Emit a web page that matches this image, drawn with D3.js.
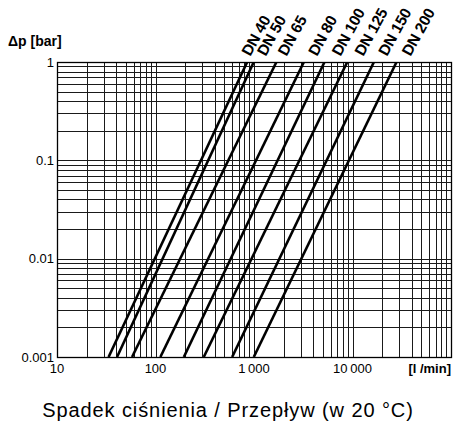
<!DOCTYPE html>
<html>
<head>
<meta charset="utf-8">
<script src="https://cdn.jsdelivr.net/npm/d3@7"></script>
<style>
  html, body { margin: 0; padding: 0; background: #fff; }
  svg { display: block; font-family: "Liberation Sans", Arial, Helvetica, sans-serif; }
</style>
</head>
<body>
<svg id="chart" width="455" height="426"></svg>
<script>
// ---- data ----
const seriesNames = ["DN 40", "DN 50", "DN 65", "DN 80", "DN 100", "DN 125", "DN 150", "DN 200"];
// flow [l/min] at Δp = 0.001 bar and at Δp = 1 bar for each line
const flowAtLow  = [33.4, 40.7, 57.8, 112, 194, 309, 600, 995];
const flowAtHigh = [853, 995, 1690, 3210, 5200, 8850, 16500, 28000];
const dpLow = 0.001, dpHigh = 1;
const xTickValues = [10, 100, 1000, 10000];
const xTickLabels = ["10", "100", "1\u2009000", "10\u2009000"];
const yTickValues = [1, 0.1, 0.01, 0.001];
const yTickLabels = ["1", "0.1", "0.01", "0.001"];
const xUnit = "[l /min]";
const yUnit = "\u0394p [bar]";
const title = "Spadek ci\u015bnienia / Przep\u0142yw (w 20 \u00b0C)";

// ---- layout ----
const svg = d3.select("#chart");
const pL = 57, pR = 451, pT = 62, pB = 357;
const x = d3.scaleLog().domain([10, 100000]).range([pL, pR]);
const y = d3.scaleLog().domain([0.001, 1]).range([pB, pT]);

// grid values: 1..9 per decade
function logGrid(lo, hi) {
  const out = [];
  for (let e = Math.round(Math.log10(lo)); e < Math.round(Math.log10(hi)); e++) {
    for (let m = 1; m <= 9; m++) out.push(m * Math.pow(10, e));
  }
  out.push(hi);
  return out;
}
const snap = v => Math.round(v) + 0.5;

const grid = svg.append("g");
grid.selectAll("line.v").data(logGrid(10, 100000)).join("line")
  .attr("class", "v")
  .attr("x1", d => snap(x(d))).attr("x2", d => snap(x(d)))
  .attr("y1", pT).attr("y2", pB + 1)
  .attr("stroke", "#1a1a1a").attr("stroke-width", 1);
grid.selectAll("line.h").data(logGrid(0.001, 1)).join("line")
  .attr("class", "h")
  .attr("y1", d => snap(y(d))).attr("y2", d => snap(y(d)))
  .attr("x1", pL).attr("x2", pR + 1)
  .attr("stroke", "#1a1a1a").attr("stroke-width", 1);

// frame
svg.append("rect")
  .attr("x", snap(pL)).attr("y", snap(pT))
  .attr("width", Math.round(pR) - Math.round(pL)).attr("height", Math.round(pB) - Math.round(pT))
  .attr("fill", "none").attr("stroke", "#000").attr("stroke-width", 1.3);

// clip
svg.append("clipPath").attr("id", "plotclip").append("rect")
  .attr("x", pL).attr("y", pT).attr("width", pR - pL).attr("height", pB - pT);

// series lines
const lineGen = d3.line().x(d => x(d[0])).y(d => y(d[1]));
svg.append("g").attr("clip-path", "url(#plotclip)")
  .selectAll("path").data(seriesNames.map((n, i) => [[flowAtLow[i], dpLow], [flowAtHigh[i], dpHigh]]))
  .join("path")
  .attr("d", lineGen)
  .attr("fill", "none").attr("stroke", "#000").attr("stroke-width", 2.6);

// series labels (rotated along the lines, above the frame)
const labelShift = [3, 12, 10, 13, 16, 16, 13, 14];
svg.append("g").selectAll("text").data(seriesNames).join("text")
  .attr("transform", (d, i) => `translate(${x(flowAtHigh[i]) + labelShift[i]},${pT - 5}) rotate(-61)`)
  .attr("font-size", 15.5).attr("font-weight", "bold").attr("letter-spacing", -0.2)
  .text(d => d);

// y tick labels
svg.append("g").selectAll("text").data(yTickValues).join("text")
  .attr("x", pL - 3).attr("y", d => y(d) + 4.5)
  .attr("text-anchor", "end").attr("font-size", 13)
  .text((d, i) => yTickLabels[i]);

// x tick labels
svg.append("g").selectAll("text").data(xTickValues).join("text")
  .attr("x", d => x(d)).attr("y", 373)
  .attr("text-anchor", "middle").attr("font-size", 13)
  .text((d, i) => xTickLabels[i]);

// axis units
svg.append("text").attr("x", pR).attr("y", 373).attr("text-anchor", "end")
  .attr("font-size", 13).attr("font-weight", "bold").text(xUnit);
svg.append("text").attr("x", 8).attr("y", 46)
  .attr("font-size", 14).attr("font-weight", "bold").text(yUnit);

// title
svg.append("text").attr("x", 228).attr("y", 417).attr("text-anchor", "middle")
  .attr("font-size", 20).attr("letter-spacing", 0.9).text(title);
</script>
</body>
</html>
